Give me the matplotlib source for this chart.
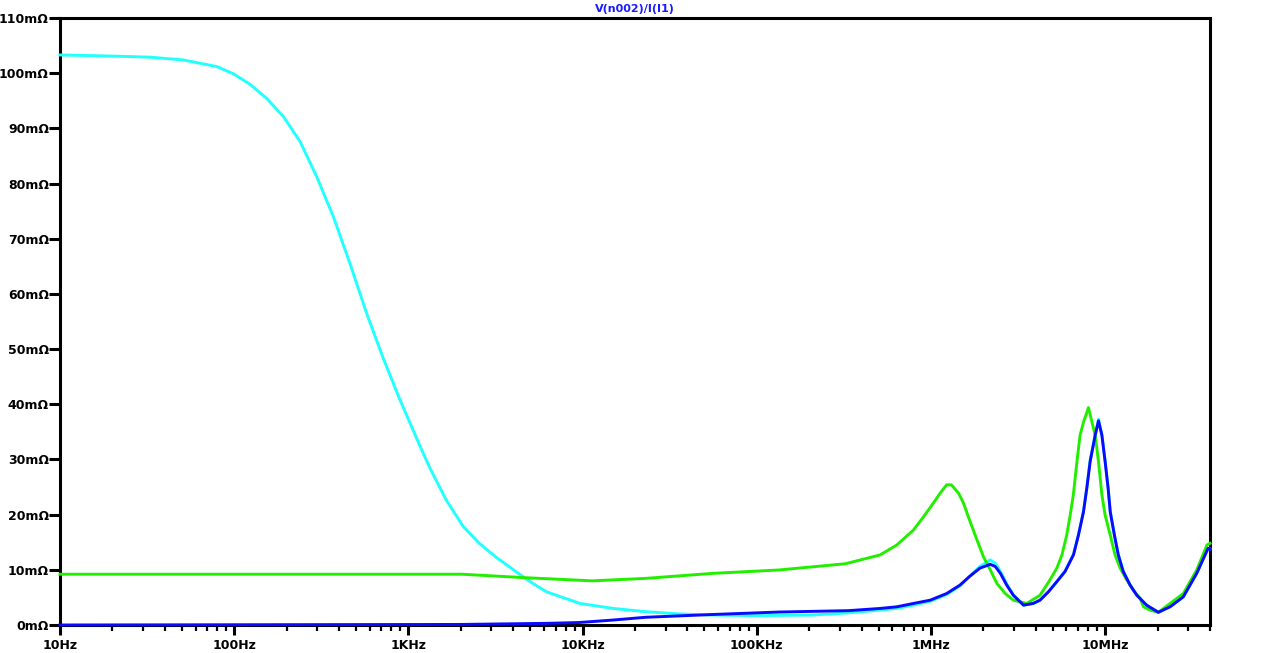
import matplotlib
matplotlib.use("Agg")
import matplotlib.pyplot as plt
from matplotlib.ticker import FixedLocator, NullFormatter

# impedance traces, frequency in Hz, value in mOhm
cyan_f = [10, 20, 32.9, 51, 79.4, 98.9, 123, 154, 192, 239, 298, 371, 462,
          577, 718, 895, 1167, 1331, 1645, 2070, 2553, 3214, 4010, 5000,
          6220, 9690, 15000, 23300, 36300, 56400, 100000, 207000, 336000,
          511000, 637000, 793000, 990000, 1.23e6, 1.47e6, 1.66e6, 1.91e6,
          2.19e6, 2.34e6, 2.5e6, 2.72e6, 2.97e6, 3.4e6, 3.86e6, 4.23e6,
          4.72e6, 5.28e6, 5.89e6, 6.58e6, 7.03e6, 7.51e6, 7.85e6, 8.2e6,
          8.77e6, 9.16e6, 9.58e6, 10.0e6, 10.4e6, 10.7e6, 11.3e6, 11.9e6,
          12.7e6, 13.9e6, 15.2e6, 17.3e6, 20.2e6, 23.6e6, 28.1e6, 33.6e6,
          39e6, 40e6]
cyan_z = [103.3, 103.1, 102.9, 102.4, 101.2, 99.9, 98.0, 95.4, 92.1, 87.6,
          81.2, 74.0, 65.5, 56.4, 48.3, 40.8, 32.4, 28.4, 22.7, 17.8, 14.8,
          12.2, 10.0, 7.85, 6.0, 3.9, 3.0, 2.4, 2.0, 1.8, 1.7, 1.8, 2.2, 2.7,
          3.0, 3.6, 4.3, 5.5, 7.1, 8.8, 10.6, 11.8, 11.2, 9.8, 7.5, 5.5, 3.6,
          3.9, 4.5, 6.0, 7.9, 9.8, 12.8, 16.4, 20.6, 24.9, 29.8, 34.5, 37.3,
          34.5, 29.8, 24.9, 20.6, 16.4, 12.8, 9.8, 7.3, 5.4, 3.6, 2.3, 3.3,
          5.1, 9.4, 13.9, 13.8]

green_f = [10, 2040, 4500, 11350, 23100, 55500, 134000, 323000, 511000,
           637000, 793000, 906000, 1.03e6, 1.13e6, 1.23e6, 1.31e6, 1.44e6,
           1.54e6, 1.64e6, 1.75e6, 1.87e6, 2.0e6, 2.19e6, 2.39e6, 2.67e6,
           2.97e6, 3.55e6, 4.23e6, 4.83e6, 5.28e6, 5.65e6, 6.02e6, 6.3e6,
           6.57e6, 6.89e6, 7.18e6, 7.52e6, 8.02e6, 8.4e6, 8.77e6, 9.16e6,
           9.58e6, 10.0e6, 10.7e6, 11.4e6, 12.2e6, 13.3e6, 14.5e6, 15.9e6,
           16.6e6, 18.1e6, 20.2e6, 23.6e6, 28.1e6, 33.6e6, 38.4e6, 40e6]
green_z = [9.2, 9.2, 8.6, 8.0, 8.45, 9.35, 9.97, 11.1, 12.7, 14.5, 17.2,
           19.6, 22.05, 23.9, 25.4, 25.4, 23.9, 22.05, 19.6, 17.2, 14.8, 12.4,
           10.0, 7.55, 5.7, 4.5, 3.9, 5.4, 8.2, 10.3, 12.7, 16.3, 19.9, 23.6,
           29.6, 34.4, 36.8, 39.4, 36.8, 34.4, 29.6, 23.6, 19.9, 16.3, 12.7,
           10.3, 8.2, 6.3, 4.8, 3.3, 2.7, 2.3, 3.9, 5.7, 10.0, 14.5, 14.8]

blue_f = [10, 2000, 6200, 9550, 15000, 23000, 55500, 134000, 336000, 511000,
          637000, 793000, 990000, 1.23e6, 1.47e6, 1.66e6, 1.91e6, 2.19e6,
          2.34e6, 2.5e6, 2.72e6, 2.97e6, 3.4e6, 3.86e6, 4.23e6, 4.72e6,
          5.28e6, 5.89e6, 6.58e6, 7.03e6, 7.51e6, 7.85e6, 8.2e6, 8.77e6,
          9.16e6, 9.58e6, 10.0e6, 10.4e6, 10.7e6, 11.3e6, 11.9e6, 12.7e6,
          13.9e6, 15.2e6, 17.3e6, 20.2e6, 23.6e6, 28.1e6, 33.6e6, 39e6, 40e6]
blue_z = [0, 0.1, 0.3, 0.45, 0.9, 1.4, 1.9, 2.35, 2.6, 3.0, 3.3, 3.9, 4.5,
          5.7, 7.25, 8.75, 10.3, 11.0, 10.6, 9.4, 7.25, 5.4, 3.6, 3.9, 4.5,
          6.0, 7.85, 9.7, 12.7, 16.3, 20.5, 24.8, 29.6, 34.4, 37.0, 34.4,
          29.6, 24.8, 20.5, 16.3, 12.7, 9.7, 7.25, 5.4, 3.6, 2.3, 3.3, 5.1,
          9.4, 13.9, 13.8]

x_major = [10, 100, 1e3, 1e4, 1e5, 1e6, 1e7]
x_labels = ["10Hz", "100Hz", "1KHz", "10KHz", "100KHz", "1MHz", "10MHz"]
y_ticks = list(range(0, 111, 10))
title = "V(n002)/I(I1)"

W, H = 1276, 653
fig = plt.figure(figsize=(W / 100, H / 100), dpi=100)
ax = fig.add_axes([60 / W, 1 - 625 / H, 1150 / W, 607 / H])

ax.plot(cyan_f, cyan_z, color="#22ffff", lw=2.1, clip_on=False, zorder=3)
ax.plot(green_f, green_z, color="#22ee00", lw=2.1, clip_on=False, zorder=4)
ax.plot(blue_f, blue_z, color="#0a0aff", lw=2.1, clip_on=False, zorder=5)

ax.set_xscale("log")
ax.set_xlim(10, 4e7)
ax.set_ylim(0, 110)

minors = [m * d for d in [10, 100, 1e3, 1e4, 1e5, 1e6, 1e7] for m in range(2, 10)
          if m * d <= 4e7]
ax.xaxis.set_major_locator(FixedLocator(x_major))
ax.xaxis.set_minor_locator(FixedLocator(minors))
ax.xaxis.set_minor_formatter(NullFormatter())
ax.set_xticklabels(x_labels)
ax.set_yticks(y_ticks)
ax.set_yticklabels([f"{v}m\u03a9" for v in y_ticks])

ax.tick_params(axis="x", which="major", direction="out", length=7, width=2.2,
               pad=3, labelsize=9)
ax.tick_params(axis="x", which="minor", direction="out", length=4.5, width=1.6)
ax.tick_params(axis="y", which="major", direction="out", length=8, width=2.2,
               pad=0, labelsize=9)
for lab in ax.get_xticklabels() + ax.get_yticklabels():
    lab.set_fontweight("bold")

for s in ax.spines.values():
    s.set_linewidth(2.2)
    s.set_color("black")

fig.text(635 / W, 1 - 9 / H, title, color="#1a1aff", fontsize=8,
         fontweight="bold", ha="center", va="center")

fig.savefig("out.png", dpi=100)
